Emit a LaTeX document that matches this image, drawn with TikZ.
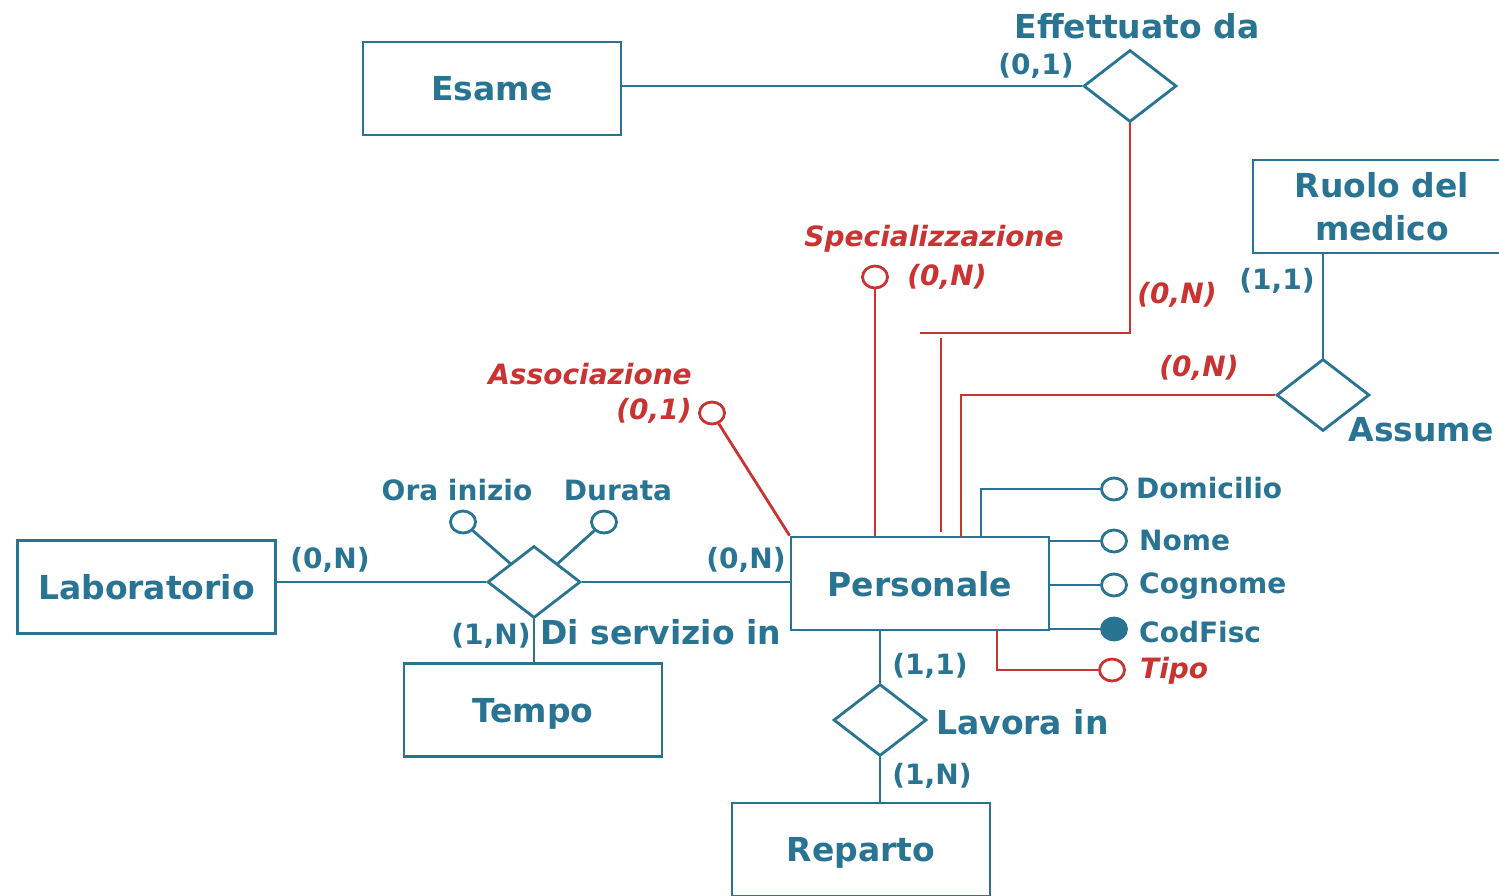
\documentclass[tikz,border=0pt]{standalone}
\usepackage{fontspec}
\setmainfont{DejaVu Sans}
\usetikzlibrary{shapes.geometric}
\definecolor{erblue}{RGB}{40,116,146}
\definecolor{erred}{RGB}{201,52,50}
\tikzset{
  ent/.style={draw=erblue, line width=2.8pt, minimum width=258pt, minimum height=93pt,
    text=erblue, font=\fontsize{33}{43}\selectfont\bfseries, align=center, text depth=0pt},
  rel/.style={diamond, draw=erblue, line width=2.8pt, minimum width=93pt, minimum height=72pt, inner sep=0pt},
  attr/.style={ellipse, draw=erblue, line width=2.8pt, fill=white, minimum width=25pt, minimum height=22pt, inner sep=0pt},
  keyattr/.style={attr, fill=erblue},
  rattr/.style={attr, draw=erred},
  lbl/.style={text=erblue, font=\fontsize{33}{40}\selectfont\bfseries, inner sep=0pt},
  card/.style={text=erblue, font=\fontsize{28}{32}\selectfont\bfseries, inner sep=0pt},
  rcard/.style={text=erred, font=\fontsize{28}{32}\selectfont\bfseries\itshape, inner sep=0pt},
  link/.style={draw=erblue, line width=2.8pt},
  rlink/.style={draw=erred, line width=2.8pt}
}
\begin{document}
\begin{tikzpicture}[x=1pt,y=-1pt]
	\useasboundingbox (0,0) rectangle (1499,895);

	%% entities
	\node[ent] (esame) at (492,88.5) {Esame};
	\node[ent] (lab) at (146.5,587) {Laboratorio};
	\node[ent] (tempo) at (533,710) {Tempo};
	\node[ent] (pers) at (920,583.5) {Personale};
	\node[ent] (rep) at (861,849.5) {Reparto};
	\node[ent] (ruolo) at (1382,206.5) {Ruolo del\\medico};

	%% relationships
	\node[rel] (eff) at (1130,86) {};
	\node[rel] (dsi) at (534,582) {};
	\node[rel] (lav) at (880,720) {};
	\node[rel] (ass) at (1323,395) {};

	\node[lbl] (efflbl) at (1137,26) {Effettuato da};
	\node[lbl, anchor=west] (dsilbl) at (540,632) {Di servizio in};
	\node[lbl, anchor=west] (lavlbl) at (936,722) {Lavora in};
	\node[lbl] (asslbl) at (1421,430) {Assume};

	%% blue links
	\draw[link] (esame.east |- eff) -- (eff);
	\draw[link] (lab.east |- dsi) -- (dsi);
	\draw[link] (dsi) -- (pers.west |- dsi);
	\draw[link] (dsi) -- (dsi |- tempo.north);
	\draw[link] (lav) -- (lav |- pers.south);
	\draw[link] (lav) -- (lav |- rep.north);
	\draw[link] (ass) -- (ass |- ruolo.south);

	%% attributes of Di servizio in
	\node[attr] (orai) at (463,522) {};
	\node[attr] (dur) at (604,522) {};
	\draw[link] (orai) -- (dsi.north west);
	\draw[link] (dur) -- (dsi.north east);
	\node[card] (orailbl) at (457,490) {Ora inizio};
	\node[card] (durlbl) at (618,490) {Durata};

	%% attributes of Personale
	\node[attr] (dom) at (1114,489) {};
	\node[attr] (nome) at (1114,541) {};
	\node[attr] (cogn) at (1114,585) {};
	\node[keyattr] (cf) at (1114,629) {};
	\node[rattr] (tipo) at (1112,670) {};
	\coordinate (domfoot) at (981,537);
	\coordinate (tipofoot) at (997,630);
	\draw[link] (dom) -| (domfoot);
	\draw[link] (pers.east |- nome) -- (nome);
	\draw[link] (pers.east |- cogn) -- (cogn);
	\draw[link] (pers.east |- cf) -- (cf);
	\draw[rlink] (tipo) -| (tipofoot);
	\node[card, anchor=west] (domlbl) at (1136,488) {Domicilio};
	\node[card, anchor=west] (nomelbl) at (1139,540) {Nome};
	\node[card, anchor=west] (cognlbl) at (1139,586) {Cognome};
	\node[card, anchor=west] (cflbl) at (1139,632) {CodFisc};
	\node[rcard, anchor=west] (tipolbl) at (1140,671) {Tipo};

	%% red (generalization) parts
	\node[rattr] (spec) at (875,277) {};
	\node[rattr] (assoc) at (712,413) {};
	\draw[rlink] (spec) -- (spec |- pers.north);
	\draw[rlink] (assoc) -- (pers.north west);
	\coordinate (effend) at (920,333);
	\coordinate (efftop) at (941,338);
	\coordinate (effbot) at (941,532);
	\coordinate (assfoot) at (961,537);
	\draw[rlink] (eff.south) |- (effend);
	\draw[rlink] (efftop) -- (effbot);
	\draw[rlink] (ass.west) -| (assfoot);
	\node[rcard] (speclbl) at (934,239) {Specializzazione};
	\node[rcard] (assoclbl) at (590,374) {Associazione};

	%% cardinalities
	\node[card] (c1) at (1036,66) {(0,1)};
	\node[rcard] (c2) at (1177,295) {(0,N)};
	\node[rcard] (c3) at (1199,368) {(0,N)};
	\node[card] (c4) at (1277,281) {(1,1)};
	\node[rcard] (c5) at (947,277) {(0,N)};
	\node[rcard] (c6) at (654,411) {(0,1)};
	\node[card] (c7) at (330,560) {(0,N)};
	\node[card] (c8) at (746,560) {(0,N)};
	\node[card] (c9) at (491,636) {(1,N)};
	\node[card] (c10) at (930,666) {(1,1)};
	\node[card] (c11) at (932,776) {(1,N)};
\end{tikzpicture}
\end{document}
